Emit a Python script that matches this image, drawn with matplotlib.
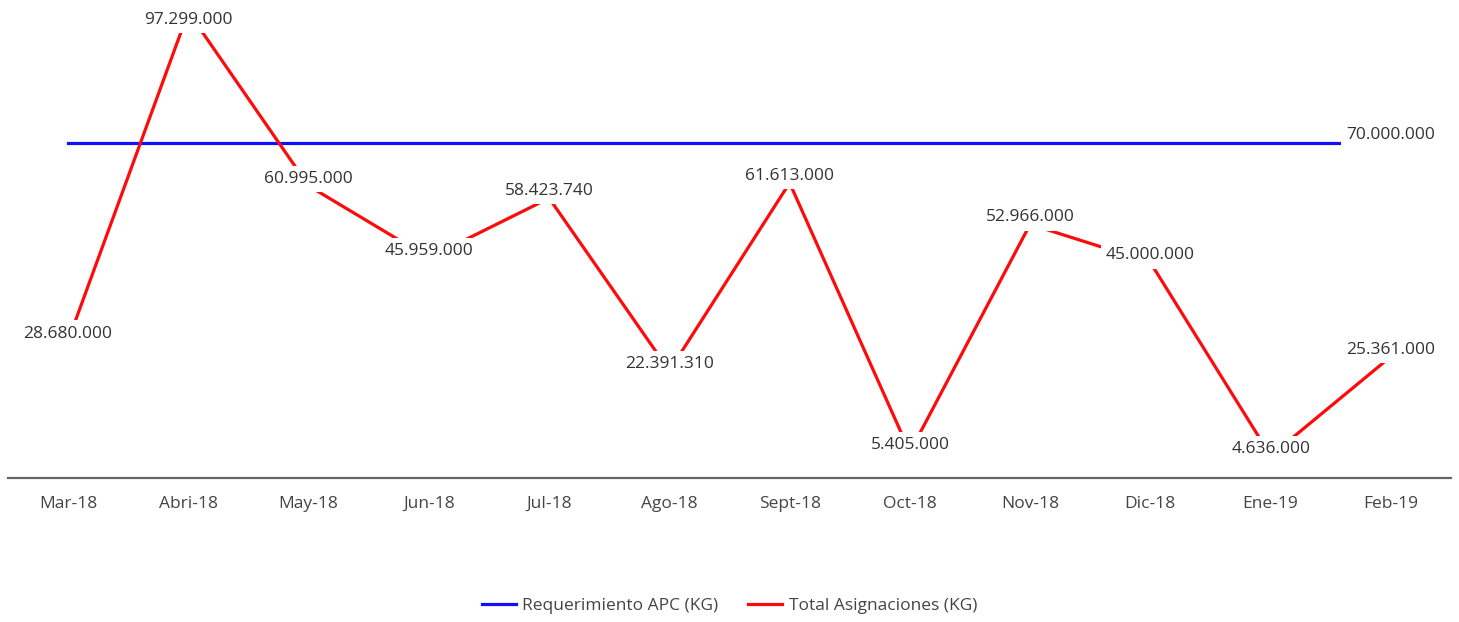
import matplotlib.pyplot as plt

months = ["Mar-18", "Abri-18", "May-18", "Jun-18", "Jul-18", "Ago-18",
          "Sept-18", "Oct-18", "Nov-18", "Dic-18", "Ene-19", "Feb-19"]
requerimiento = [70000000] * 12
asignaciones = [28680000, 97299000, 60995000, 45959000, 58423740, 22391310,
                61613000, 5405000, 52966000, 45000000, 4636000, 25361000]

plt.rcParams['font.family'] = ['Open Sans', 'DejaVu Sans']


def fmt(v):
    return f"{v:,.0f}".replace(",", ".")


fig = plt.figure(figsize=(14.59, 6.22), dpi=100)
ax = fig.add_axes([8 / 1459, 144 / 622, 1443 / 1459, 478 / 622])

x = list(range(len(months)))
ax.plot(x, requerimiento, color="#1010ff", lw=2.3, label="Requerimiento APC (KG)", zorder=2)
ax.plot(x, asignaciones, color="#ff0a0a", lw=2.3, label="Total Asignaciones (KG)", zorder=2)

box = dict(boxstyle="square,pad=0.3", fc="white", ec="none")
for i, v in enumerate(asignaciones):
    dy = -8 if i == 1 else 7
    ax.annotate(fmt(v), (i, v), xytext=(0, dy), textcoords="offset pixels",
                ha="center", va="center", fontsize=12.5, color="#333333",
                bbox=box, zorder=3)
ax.annotate(fmt(requerimiento[-1]), (len(months) - 1, requerimiento[-1]),
            xytext=(0, 8), textcoords="offset pixels", ha="center", va="center",
            fontsize=12.5, color="#333333", bbox=box, zorder=3)

ax.set_xlim(-0.5, len(months) - 0.5)
ax.set_ylim(0, 99.8e6)
ax.set_xticks(x)
ax.set_xticklabels(months, fontsize=12.5, color="#444444")
ax.tick_params(axis="x", length=0, pad=13)
ax.set_yticks([])
for s in ["top", "right", "left"]:
    ax.spines[s].set_visible(False)
ax.spines["bottom"].set_color("#666666")
ax.spines["bottom"].set_linewidth(1.6)

handles, labels = ax.get_legend_handles_labels()
fig.legend(handles, labels, loc="center", bbox_to_anchor=(0.5, 1 - 606 / 622),
           ncol=2, frameon=False, fontsize=12.5, handlelength=1.95,
           columnspacing=1.7, handletextpad=0.4, labelcolor="#444444")

fig.savefig("out.png", dpi=100)
